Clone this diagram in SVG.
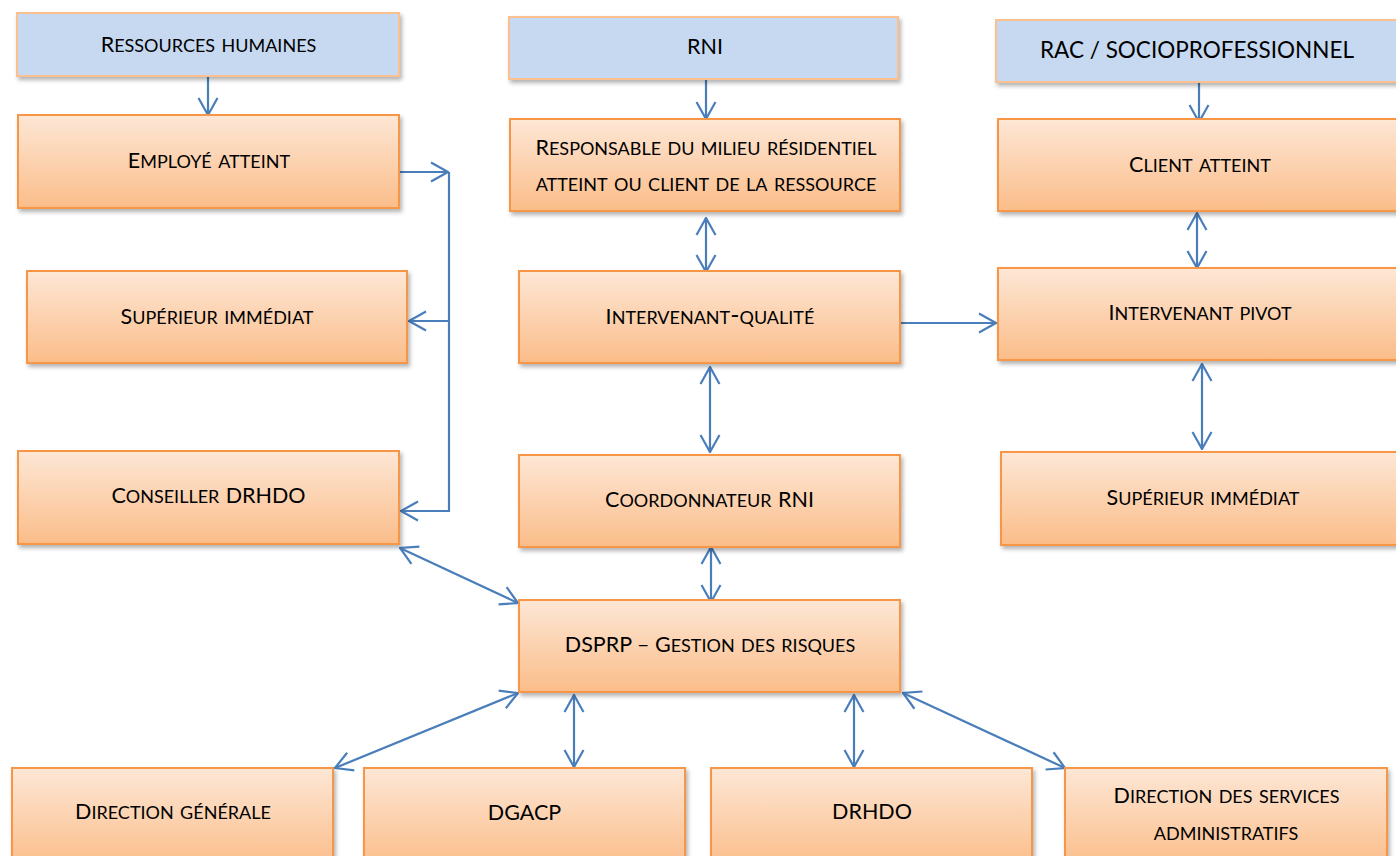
<svg xmlns="http://www.w3.org/2000/svg" width="1396" height="856" viewBox="0 0 1396 856">
<style>
.hdr{fill:#c6d9f1;stroke:#fac090;stroke-width:2;filter:url(#sh)}
.box{fill:url(#og);stroke:#f79646;stroke-width:2;filter:url(#sh)}
text{font-family:Lato,"Open Sans","Liberation Sans",sans-serif;font-size:21.5px;fill:#000;text-anchor:middle}
.sc{font-variant:small-caps;font-size:25px}
.c{font-size:21.5px}
.cn{fill:none;stroke:#4a7ebb;stroke-width:2.2}
</style>
<defs>
<linearGradient id="og" x1="0" y1="0" x2="0" y2="1">
<stop offset="0" stop-color="#fde7d6"/>
<stop offset="1" stop-color="#fbbd89"/>
</linearGradient>
<filter id="sh" x="-5%" y="-10%" width="115%" height="130%">
<feDropShadow dx="2" dy="3" stdDeviation="2" flood-color="#000" flood-opacity="0.3"/>
</filter>
<marker id="ar" viewBox="0 0 19 22" refX="18" refY="11" markerWidth="19" markerHeight="22" markerUnits="userSpaceOnUse" orient="auto-start-reverse">
<path d="M1,1.5 L18,11 L1,20.5" fill="none" stroke="#4a7ebb" stroke-width="2.2"/>
</marker>
</defs>

<g id="connectors">
<path class="cn" d="M208,77 V115" marker-end="url(#ar)"/>
<path class="cn" d="M706,80 V119" marker-end="url(#ar)"/>
<path class="cn" d="M1199,83 V122" marker-end="url(#ar)"/>
<path class="cn" d="M399,172 H448" marker-end="url(#ar)"/>
<path class="cn" d="M449,172 V511 H401" marker-end="url(#ar)"/>
<path class="cn" d="M449,321 H409" marker-end="url(#ar)"/>
<path class="cn" d="M706,218 V272" marker-start="url(#ar)" marker-end="url(#ar)"/>
<path class="cn" d="M710,367 V452" marker-start="url(#ar)" marker-end="url(#ar)"/>
<path class="cn" d="M711,547 V602" marker-start="url(#ar)" marker-end="url(#ar)"/>
<path class="cn" d="M900,323 H996" marker-end="url(#ar)"/>
<path class="cn" d="M1197,213 V268" marker-start="url(#ar)" marker-end="url(#ar)"/>
<path class="cn" d="M1202,364 V449" marker-start="url(#ar)" marker-end="url(#ar)"/>
<path class="cn" d="M400,548 L518,603" marker-start="url(#ar)" marker-end="url(#ar)"/>
<path class="cn" d="M518,693 L335,768" marker-start="url(#ar)" marker-end="url(#ar)"/>
<path class="cn" d="M574,695 V767" marker-start="url(#ar)" marker-end="url(#ar)"/>
<path class="cn" d="M854,695 V767" marker-start="url(#ar)" marker-end="url(#ar)"/>
<path class="cn" d="M903,693 L1065,768" marker-start="url(#ar)" marker-end="url(#ar)"/>
</g>

<g id="rh"><rect class="hdr" x="17" y="13" width="382" height="63"/><text class="sc" x="208.5" y="52"><tspan class="c">R</tspan>essources humaines</text></g>
<g id="rni"><rect class="hdr" x="509" y="17" width="389" height="62"/><text x="705" y="54">RNI</text></g>
<g id="rac"><rect class="hdr" x="996" y="20" width="410" height="62"/><text x="1197" y="58" style="font-size:22.5px">RAC / SOCIOPROFESSIONNEL</text></g>

<g id="employe"><rect class="box" x="18" y="115" width="381" height="93"/><text class="sc" x="209" y="168"><tspan class="c">E</tspan>mployé atteint</text></g>
<g id="responsable"><rect class="box" x="510" y="119" width="390" height="92"/><text class="sc" x="706" y="155"><tspan class="c">R</tspan>esponsable du milieu résidentiel</text><text class="sc" x="706" y="191">atteint ou client de la ressource</text></g>
<g id="client"><rect class="box" x="998" y="119" width="410" height="92"/><text class="sc" x="1200" y="172"><tspan class="c">C</tspan>lient atteint</text></g>

<g id="superieur1"><rect class="box" x="27" y="271" width="380" height="92"/><text class="sc" x="217" y="324"><tspan class="c">S</tspan>upérieur immédiat</text></g>
<g id="intervenant-qualite"><rect class="box" x="519" y="271" width="381" height="92"/><text class="sc" x="710" y="324"><tspan class="c">I</tspan>ntervenant-qualité</text></g>
<g id="intervenant-pivot"><rect class="box" x="998" y="268" width="410" height="92"/><text class="sc" x="1200" y="320"><tspan class="c">I</tspan>ntervenant pivot</text></g>

<g id="conseiller"><rect class="box" x="18" y="451" width="381" height="93"/><text class="sc" x="208.5" y="503"><tspan class="c">C</tspan>onseiller <tspan class="c">DRHDO</tspan></text></g>
<g id="coordonnateur"><rect class="box" x="519" y="455" width="381" height="92"/><text class="sc" x="709.5" y="507"><tspan class="c">C</tspan>oordonnateur <tspan class="c">RNI</tspan></text></g>
<g id="superieur2"><rect class="box" x="1001" y="452" width="410" height="93"/><text class="sc" x="1203" y="505"><tspan class="c">S</tspan>upérieur immédiat</text></g>

<g id="dsprp"><rect class="box" x="519" y="600" width="381" height="92"/><text class="sc" x="710" y="652"><tspan class="c">DSPRP – G</tspan>estion des risques</text></g>

<g id="direction-generale"><rect class="box" x="12" y="768" width="321" height="100"/><text class="sc" x="173" y="819"><tspan class="c">D</tspan>irection générale</text></g>
<g id="dgacp"><rect class="box" x="364" y="768" width="321" height="100"/><text x="524.5" y="820">DGACP</text></g>
<g id="drhdo"><rect class="box" x="711" y="768" width="321" height="100"/><text x="872" y="819">DRHDO</text></g>
<g id="dsa"><rect class="box" x="1065" y="768" width="322" height="100"/><text class="sc" x="1226.5" y="803"><tspan class="c">D</tspan>irection des services</text><text class="sc" x="1226" y="840">administratifs</text></g>
</svg>
